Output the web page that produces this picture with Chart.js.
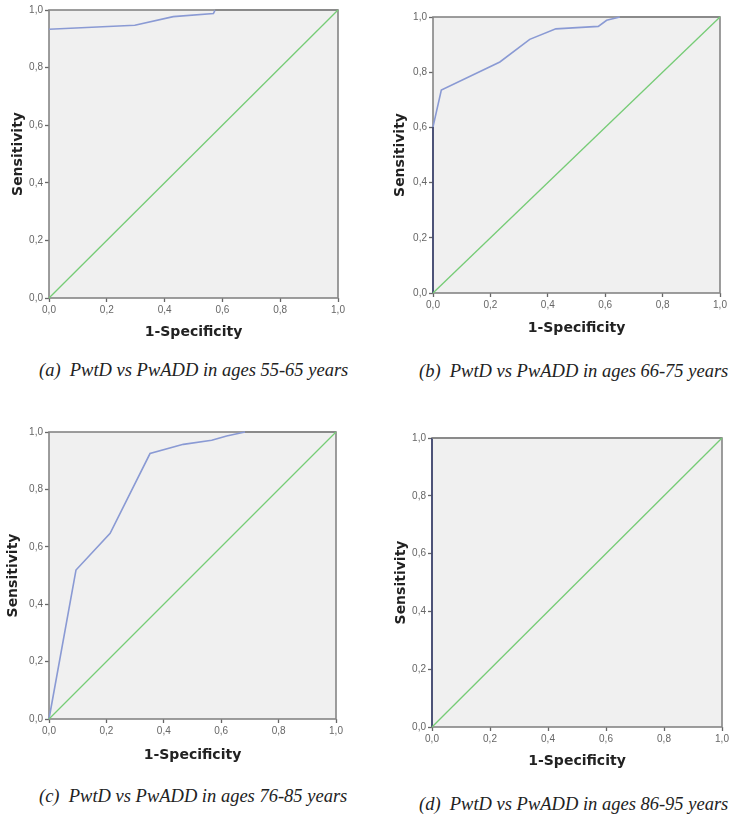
<!DOCTYPE html>
<html>
<head>
<meta charset="utf-8">
<script src="https://cdn.jsdelivr.net/npm/chart.js@4.4.1/dist/chart.umd.min.js"></script>
<style>
  body { margin: 0; background: #fff; width: 736px; height: 820px; position: relative; overflow: hidden; }
  .panel { position: absolute; }
  .caption { position: absolute; font-family: "Liberation Serif", "Times New Roman", serif; font-style: italic;
             font-size: 18.5px; line-height: 20px; white-space: pre; color: #222; }
</style>
</head>
<body>
<div class="panel" id="panelA"><canvas id="rocA"></canvas></div>
<div class="panel" id="panelB"><canvas id="rocB"></canvas></div>
<div class="panel" id="panelC"><canvas id="rocC"></canvas></div>
<div class="panel" id="panelD"><canvas id="rocD"></canvas></div>
<div class="caption" id="capA"></div>
<div class="caption" id="capB"></div>
<div class="caption" id="capC"></div>
<div class="caption" id="capD"></div>

<script>
// curvas ROC (1-especificidad, sensibilidad)
const fprA = [0, 0.297, 0.43, 0.569, 0.575, 1];
const tprA = [0.933, 0.947, 0.977, 0.988, 1, 1];

const fprB = [0, 0, 0.029, 0.233, 0.337, 0.428, 0.576, 0.605, 0.651, 1];
const tprB = [0, 0.602, 0.735, 0.837, 0.919, 0.957, 0.966, 0.988, 1, 1];

const fprC = [0, 0.094, 0.213, 0.352, 0.468, 0.567, 0.619, 0.683, 1];
const tprC = [0, 0.519, 0.647, 0.925, 0.957, 0.971, 0.986, 1, 1];

const fprD = [0, 0, 1];
const tprD = [0, 1, 1];

// linea de referencia
const refX = [0, 1];
const refY = [0, 1];

const tickValues = [0, 0.2, 0.4, 0.6, 0.8, 1];
const xTitle = "1-Specificity";
const yTitle = "Sensitivity";
const captions = [
  "(a)  PwtD vs PwADD in ages 55-65 years",
  "(b)  PwtD vs PwADD in ages 66-75 years",
  "(c)  PwtD vs PwADD in ages 76-85 years",
  "(d)  PwtD vs PwADD in ages 86-95 years"
];

// area de trazado de cada panel en la pagina
const paneles = [
  { id: "A", fpr: fprA, tpr: tprA, L: 49,  T: 10,  R: 338, B: 298, yOff: 31, xOff: 34, cap: [39, 360] },
  { id: "B", fpr: fprB, tpr: tprB, L: 433, T: 17,  R: 720, B: 293, yOff: 33, xOff: 35, cap: [419, 361] },
  { id: "C", fpr: fprC, tpr: tprC, L: 49,  T: 432, R: 336, B: 719, yOff: 36, xOff: 36, cap: [39, 786] },
  { id: "D", fpr: fprD, tpr: tprD, L: 432, T: 438, R: 722, B: 727, yOff: 31, xOff: 34, cap: [419, 794] }
];

const AZUL = "rgb(138,154,212)";
const AZUL_OSCURO = "rgb(58,66,112)";
const VERDE = "rgb(118,204,118)";
const FONDO = "#f0f0f0";
const MARCO = "#858585";

// fondo gris y marco, dibujados antes de las curvas
const marcoPlugin = {
  id: "marco",
  beforeDatasetsDraw(chart) {
    const { ctx, chartArea: a } = chart;
    ctx.save();
    ctx.fillStyle = FONDO;
    ctx.fillRect(a.left, a.top, a.right - a.left, a.bottom - a.top);
    ctx.strokeStyle = MARCO;
    ctx.lineWidth = 1.6;
    ctx.strokeRect(a.left, a.top, a.right - a.left, a.bottom - a.top);
    ctx.restore();
  }
};

function formatoComa(v) {
  return v.toFixed(1).replace(".", ",");
}

// tramos sobre el borde: vertical en x=0 azul oscuro, horizontal en y=1 gris del marco
function colorTramo(c) {
  if (c.p0.parsed.x === 0 && c.p1.parsed.x === 0) return AZUL_OSCURO;
  if (c.p0.parsed.y === 1 && c.p1.parsed.y === 1) return MARCO;
  return AZUL;
}

function crearPanel(p, i) {
  const div = document.getElementById("panel" + p.id);
  const ancho = p.R - p.L + 49 + 10;
  const alto = p.B - p.T + 10 + 50;
  div.style.left = (p.L - 49) + "px";
  div.style.top = (p.T - 10) + "px";
  div.style.width = ancho + "px";
  div.style.height = alto + "px";

  const cap = document.getElementById("cap" + p.id);
  cap.textContent = captions[i];
  cap.style.left = p.cap[0] + "px";
  cap.style.top = p.cap[1] + "px";

  const curva = p.fpr.map((x, k) => ({ x, y: p.tpr[k] }));
  const ref = refX.map((x, k) => ({ x, y: refY[k] }));

  const ejeComun = {
    type: "linear",
    min: 0,
    max: 1,
    afterBuildTicks: s => { s.ticks = tickValues.map(v => ({ value: v })); },
    grid: { display: true, drawOnChartArea: false, drawTicks: true, tickLength: 4, tickWidth: 1.3, color: "#666" },
    border: { display: false },
    ticks: {
      padding: 2,
      color: "#666",
      font: { family: "Liberation Sans", size: 10 },
      callback: v => formatoComa(v)
    }
  };

  return new Chart(document.getElementById("roc" + p.id), {
    type: "line",
    data: {
      datasets: [
        {
          data: ref,
          borderColor: VERDE,
          borderWidth: 1.3,
          pointRadius: 0,
          tension: 0
        },
        {
          data: curva,
          borderColor: AZUL,
          borderWidth: 1.6,
          pointRadius: 0,
          tension: 0,
          segment: { borderColor: colorTramo }
        }
      ]
    },
    options: {
      responsive: true,
      maintainAspectRatio: false,
      animation: false,
      clip: false,
      layout: { padding: { top: 10, right: 10, left: 0, bottom: 0 } },
      plugins: { legend: { display: false }, tooltip: { enabled: false } },
      scales: {
        x: Object.assign({}, ejeComun, {
          afterFit: s => { s.height = 50; },
          title: {
            display: true, text: xTitle, color: "#222",
            font: { family: "DejaVu Sans", size: 14, weight: "bold" },
            padding: { top: 0, bottom: 50 - p.xOff - 8.4 }
          }
        }),
        y: Object.assign({}, ejeComun, {
          afterFit: s => { s.width = 49; },
          title: {
            display: true, text: yTitle, color: "#222",
            font: { family: "DejaVu Sans", size: 14, weight: "bold" },
            padding: { top: 49 - p.yOff - 8.4, bottom: 0 }
          }
        })
      }
    },
    plugins: [marcoPlugin]
  });
}

paneles.forEach((p, i) => crearPanel(p, i));
</script>
</body>
</html>
